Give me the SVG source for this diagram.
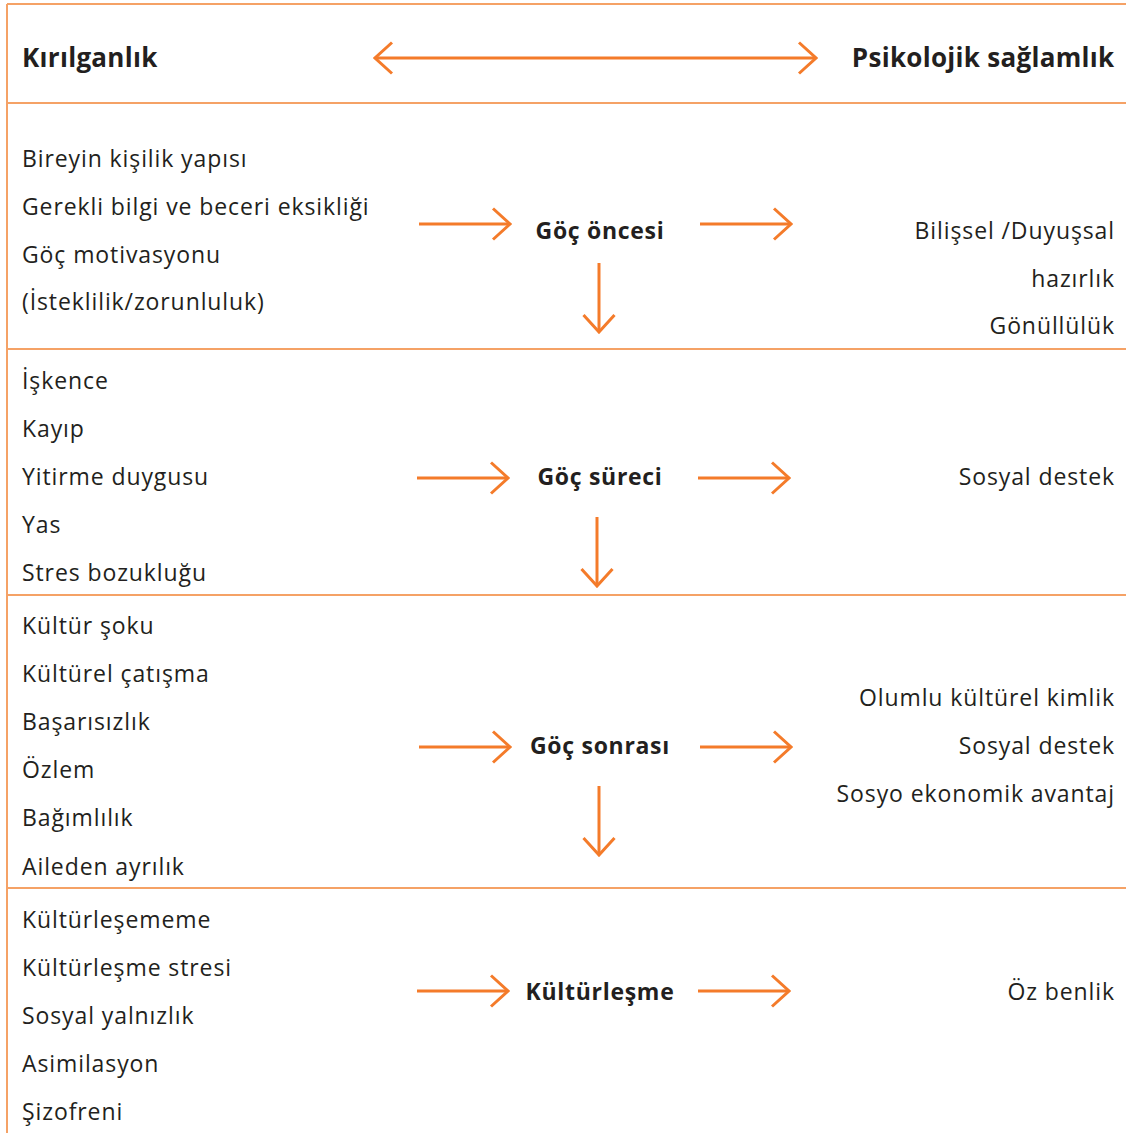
<svg xmlns="http://www.w3.org/2000/svg" width="1126" height="1133" viewBox="0 0 1126 1133">
<defs>
<style>
.frame{stroke:#F5A266;stroke-width:2;fill:none}
.arr{stroke:#F47B2A;stroke-width:3;fill:none;stroke-linecap:butt}
text{font-family:"Open Sans","Noto Sans",sans-serif;fill:#231F20}
.t{font-size:23px;letter-spacing:0.9px}
.r{font-size:23px;letter-spacing:0.9px;text-anchor:end}
.c{font-size:23px;font-weight:700;letter-spacing:0.7px;text-anchor:middle}
.h{font-size:26px;font-weight:700;letter-spacing:0.3px}
</style>
<marker id="ah" viewBox="-20 -18 22 36" markerWidth="22" markerHeight="36" refX="0" refY="0" orient="auto-start-reverse" markerUnits="userSpaceOnUse">
<path d="M-17,-15.5 L0,0 L-17,15.5" stroke="#F47B2A" stroke-width="3" fill="none"/>
</marker>
</defs>
<rect width="1126" height="1133" fill="#ffffff"/>
<g id="frame">
<line class="frame" x1="7" y1="4" x2="1126" y2="4"/>
<line class="frame" x1="7" y1="4" x2="7" y2="1133"/>
<line class="frame" x1="7" y1="103" x2="1126" y2="103"/>
<line class="frame" x1="7" y1="349" x2="1126" y2="349"/>
<line class="frame" x1="7" y1="595" x2="1126" y2="595"/>
<line class="frame" x1="7" y1="888" x2="1126" y2="888"/>
</g>
<g id="header">
<text class="h" x="22" y="67">Kırılganlık</text>
<text class="h" x="1114.5" y="67" text-anchor="end">Psikolojik sağlamlık</text>
</g>
<g id="connectors">
<line class="arr" x1="375" y1="58" x2="816" y2="58" marker-start="url(#ah)" marker-end="url(#ah)"/>
<line class="arr" x1="419" y1="224" x2="510" y2="224" marker-end="url(#ah)"/>
<line class="arr" x1="700" y1="224" x2="791" y2="224" marker-end="url(#ah)"/>
<line class="arr" x1="599" y1="263" x2="599" y2="332" marker-end="url(#ah)"/>
<line class="arr" x1="417" y1="478" x2="508" y2="478" marker-end="url(#ah)"/>
<line class="arr" x1="698" y1="478" x2="789" y2="478" marker-end="url(#ah)"/>
<line class="arr" x1="597" y1="517" x2="597" y2="586" marker-end="url(#ah)"/>
<line class="arr" x1="419" y1="747" x2="510" y2="747" marker-end="url(#ah)"/>
<line class="arr" x1="700" y1="747" x2="791" y2="747" marker-end="url(#ah)"/>
<line class="arr" x1="599" y1="786" x2="599" y2="855" marker-end="url(#ah)"/>
<line class="arr" x1="417" y1="991" x2="508" y2="991" marker-end="url(#ah)"/>
<line class="arr" x1="698" y1="991" x2="789" y2="991" marker-end="url(#ah)"/>
</g>
<g id="node-goc-oncesi">
<text class="c" x="600" y="239">Göç öncesi</text>
</g>
<g id="node-goc-sureci">
<text class="c" x="600" y="485">Göç süreci</text>
</g>
<g id="node-goc-sonrasi">
<text class="c" x="600" y="754">Göç sonrası</text>
</g>
<g id="node-kulturlesme">
<text class="c" x="600" y="1000">Kültürleşme</text>
</g>
<g id="left-1">
<text class="t" x="22" y="167">Bireyin kişilik yapısı</text>
<text class="t" x="22" y="215">Gerekli bilgi ve beceri eksikliği</text>
<text class="t" x="22" y="263">Göç motivasyonu</text>
<text class="t" x="22" y="310">(İsteklilik/zorunluluk)</text>
</g>
<g id="left-2">
<text class="t" x="22" y="389">İşkence</text>
<text class="t" x="22" y="437">Kayıp</text>
<text class="t" x="22" y="485">Yitirme duygusu</text>
<text class="t" x="22" y="533">Yas</text>
<text class="t" x="22" y="581">Stres bozukluğu</text>
</g>
<g id="left-3">
<text class="t" x="22" y="634">Kültür şoku</text>
<text class="t" x="22" y="682">Kültürel çatışma</text>
<text class="t" x="22" y="730">Başarısızlık</text>
<text class="t" x="22" y="778">Özlem</text>
<text class="t" x="22" y="826">Bağımlılık</text>
<text class="t" x="22" y="875">Aileden ayrılık</text>
</g>
<g id="left-4">
<text class="t" x="22" y="928">Kültürleşememe</text>
<text class="t" x="22" y="976">Kültürleşme stresi</text>
<text class="t" x="22" y="1024">Sosyal yalnızlık</text>
<text class="t" x="22" y="1072">Asimilasyon</text>
<text class="t" x="22" y="1120">Şizofreni</text>
</g>
<g id="right-1">
<text class="r" x="1115" y="239">Bilişsel /Duyuşsal</text>
<text class="r" x="1115" y="287">hazırlık</text>
<text class="r" x="1115" y="334">Gönüllülük</text>
</g>
<g id="right-2">
<text class="r" x="1115" y="485">Sosyal destek</text>
</g>
<g id="right-3">
<text class="r" x="1115" y="706">Olumlu kültürel kimlik</text>
<text class="r" x="1115" y="754">Sosyal destek</text>
<text class="r" x="1115" y="802">Sosyo ekonomik avantaj</text>
</g>
<g id="right-4">
<text class="r" x="1115" y="1000">Öz benlik</text>
</g>
</svg>
